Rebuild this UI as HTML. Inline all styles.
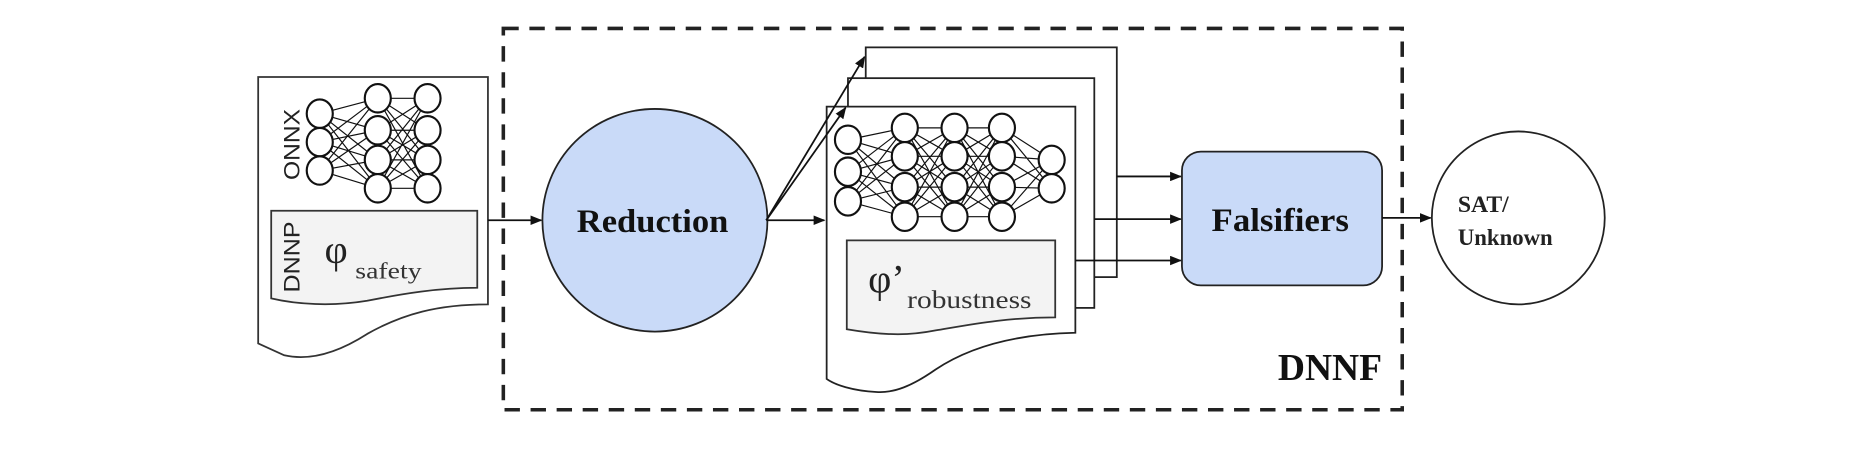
<!DOCTYPE html>
<html><head><meta charset="utf-8"><style>
html,body{margin:0;padding:0;background:#fff;}
svg{display:block;}
text{font-family:"Liberation Serif",serif;}
</style></head><body>
<svg width="1857" height="450" viewBox="0 0 1568 380" preserveAspectRatio="none" xmlns="http://www.w3.org/2000/svg">
<defs>
<marker id="ar" markerWidth="10" markerHeight="8" refX="9" refY="4" orient="auto" markerUnits="userSpaceOnUse">
<path d="M0,0 L10,4 L0,8 Z" fill="#111"/>
</marker>
</defs>
<rect x="0" y="0" width="1568" height="380" fill="#fff"/>

<rect x="425" y="24" width="759" height="322" fill="none" stroke="#222" stroke-width="3" stroke-dasharray="13,9"/>
<text x="1079" y="321" font-size="32" font-weight="bold" textLength="88" lengthAdjust="spacingAndGlyphs" fill="#111">DNNF</text>

<path d="M218,65 H412 V257 C370,257 340,265 310,282 C285,298 262,305 240,300 L218,290 Z" fill="#fff" stroke="#333" stroke-width="1.5"/>
<g stroke="#111" stroke-width="1">
<path d="M270 96L319 83M270 96L319 110M270 96L319 135M270 96L319 159M270 120L319 83M270 120L319 110M270 120L319 135M270 120L319 159M270 144L319 83M270 144L319 110M270 144L319 135M270 144L319 159"/>
<path d="M319 83L361 83M319 83L361 110M319 83L361 135M319 83L361 159M319 110L361 83M319 110L361 110M319 110L361 135M319 110L361 159M319 135L361 83M319 135L361 110M319 135L361 135M319 135L361 159M319 159L361 83M319 159L361 110M319 159L361 135M319 159L361 159"/>
</g>
<g fill="#fff" stroke="#111" stroke-width="1.8">
<ellipse cx="270" cy="96" rx="11" ry="12"/><ellipse cx="270" cy="120" rx="11" ry="12"/><ellipse cx="270" cy="144" rx="11" ry="12"/>
<ellipse cx="319" cy="83" rx="11" ry="12"/><ellipse cx="319" cy="110" rx="11" ry="12"/><ellipse cx="319" cy="135" rx="11" ry="12"/><ellipse cx="319" cy="159" rx="11" ry="12"/>
<ellipse cx="361" cy="83" rx="11" ry="12"/><ellipse cx="361" cy="110" rx="11" ry="12"/><ellipse cx="361" cy="135" rx="11" ry="12"/><ellipse cx="361" cy="159" rx="11" ry="12"/>
</g>
<text transform="translate(253,122) rotate(-90)" font-size="19" text-anchor="middle" textLength="60" lengthAdjust="spacingAndGlyphs" fill="#222" style="font-family:'Liberation Sans',sans-serif">ONNX</text>
<path d="M229,178 H403 V243 C370,243 340,248 310,254 C280,259 250,257 229,252 Z" fill="#f3f3f3" stroke="#333" stroke-width="1.5"/>
<text transform="translate(253,217) rotate(-90)" font-size="19" text-anchor="middle" textLength="60" lengthAdjust="spacingAndGlyphs" fill="#222" style="font-family:'Liberation Sans',sans-serif">DNNP</text>
<text x="274" y="222" font-size="34" fill="#222">φ</text>
<text x="300" y="235" font-size="20" fill="#333" textLength="56" lengthAdjust="spacingAndGlyphs">safety</text>

<line x1="412" y1="186" x2="457" y2="186" stroke="#111" stroke-width="1.5" marker-end="url(#ar)"/>

<ellipse cx="553" cy="186" rx="95" ry="94" fill="#c9daf8" stroke="#222" stroke-width="1.5"/>
<text x="551" y="196" font-size="28" font-weight="bold" text-anchor="middle" textLength="128" lengthAdjust="spacingAndGlyphs" fill="#111">Reduction</text>

<rect x="731" y="40" width="212" height="194" fill="#fff" stroke="#222" stroke-width="1.5"/>
<rect x="716" y="66" width="208" height="194" fill="#fff" stroke="#222" stroke-width="1.5"/>
<path d="M698,90 H908 V281 C860,282 820,292 790,312 C770,326 755,332 740,331 C720,330 705,325 698,320 Z" fill="#fff" stroke="#222" stroke-width="1.5"/>

<line x1="647" y1="186" x2="696" y2="186" stroke="#111" stroke-width="1.5" marker-end="url(#ar)"/>
<line x1="647" y1="186" x2="714" y2="91" stroke="#111" stroke-width="1.5" marker-end="url(#ar)"/>
<line x1="647" y1="186" x2="730" y2="48" stroke="#111" stroke-width="1.5" marker-end="url(#ar)"/>

<g stroke="#111" stroke-width="1">
<path d="M716 118L764 108M716 118L764 132M716 118L764 158M716 118L764 183M716 145L764 108M716 145L764 132M716 145L764 158M716 145L764 183M716 170L764 108M716 170L764 132M716 170L764 158M716 170L764 183"/>
<path d="M764 108L806 108M764 108L806 132M764 108L806 158M764 108L806 183M764 132L806 108M764 132L806 132M764 132L806 158M764 132L806 183M764 158L806 108M764 158L806 132M764 158L806 158M764 158L806 183M764 183L806 108M764 183L806 132M764 183L806 158M764 183L806 183"/>
<path d="M806 108L846 108M806 108L846 132M806 108L846 158M806 108L846 183M806 132L846 108M806 132L846 132M806 132L846 158M806 132L846 183M806 158L846 108M806 158L846 132M806 158L846 158M806 158L846 183M806 183L846 108M806 183L846 132M806 183L846 158M806 183L846 183"/>
<path d="M846 108L888 135M846 108L888 159M846 132L888 135M846 132L888 159M846 158L888 135M846 158L888 159M846 183L888 135M846 183L888 159"/>
</g>
<g fill="#fff" stroke="#111" stroke-width="1.8">
<ellipse cx="716" cy="118" rx="11" ry="12"/><ellipse cx="716" cy="145" rx="11" ry="12"/><ellipse cx="716" cy="170" rx="11" ry="12"/>
<ellipse cx="764" cy="108" rx="11" ry="12"/><ellipse cx="764" cy="132" rx="11" ry="12"/><ellipse cx="764" cy="158" rx="11" ry="12"/><ellipse cx="764" cy="183" rx="11" ry="12"/>
<ellipse cx="806" cy="108" rx="11" ry="12"/><ellipse cx="806" cy="132" rx="11" ry="12"/><ellipse cx="806" cy="158" rx="11" ry="12"/><ellipse cx="806" cy="183" rx="11" ry="12"/>
<ellipse cx="846" cy="108" rx="11" ry="12"/><ellipse cx="846" cy="132" rx="11" ry="12"/><ellipse cx="846" cy="158" rx="11" ry="12"/><ellipse cx="846" cy="183" rx="11" ry="12"/>
<ellipse cx="888" cy="135" rx="11" ry="12"/><ellipse cx="888" cy="159" rx="11" ry="12"/>
</g>
<path d="M715,203 H891 V268 C850,268 820,274 790,279 C770,283 750,284 715,278 Z" fill="#f3f3f3" stroke="#333" stroke-width="1.5"/>
<text x="733" y="247" font-size="34" fill="#222">φ’</text>
<text x="766" y="260" font-size="21" fill="#333" textLength="105" lengthAdjust="spacingAndGlyphs">robustness</text>

<line x1="943" y1="149" x2="997" y2="149" stroke="#111" stroke-width="1.5" marker-end="url(#ar)"/>
<line x1="924" y1="185" x2="997" y2="185" stroke="#111" stroke-width="1.5" marker-end="url(#ar)"/>
<line x1="908" y1="220" x2="997" y2="220" stroke="#111" stroke-width="1.5" marker-end="url(#ar)"/>

<rect x="998" y="128" width="169" height="113" rx="16" ry="16" fill="#c9daf8" stroke="#222" stroke-width="1.5"/>
<text x="1081" y="195" font-size="28" font-weight="bold" text-anchor="middle" textLength="116" lengthAdjust="spacingAndGlyphs" fill="#111">Falsifiers</text>

<line x1="1167" y1="184" x2="1208" y2="184" stroke="#111" stroke-width="1.5" marker-end="url(#ar)"/>

<ellipse cx="1282" cy="184" rx="73" ry="73" fill="#fff" stroke="#222" stroke-width="1.5"/>
<text x="1231" y="179" font-size="20" font-weight="bold" fill="#222">SAT/</text>
<text x="1231" y="207" font-size="20" font-weight="bold" fill="#222" textLength="80" lengthAdjust="spacingAndGlyphs">Unknown</text>
</svg>
</body></html>
